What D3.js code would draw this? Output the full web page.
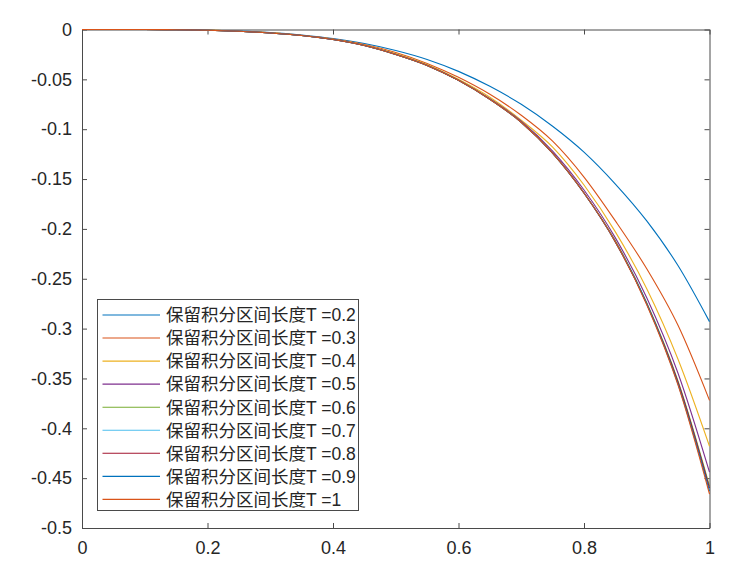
<!DOCTYPE html>
<html>
<head>
<meta charset="utf-8">
<script src="https://cdn.jsdelivr.net/npm/d3@7"></script>
<style>
  html, body { margin: 0; padding: 0; background: #fff; }
  svg { display: block; }
</style>
</head>
<body>
<div id="chart"></div>
<script>
// ---------- data ----------
const xValues = [0, 0.05, 0.1, 0.15, 0.2, 0.25, 0.3, 0.35, 0.4, 0.45, 0.5,
                 0.55, 0.6, 0.65, 0.7, 0.75, 0.8, 0.85, 0.9, 0.95, 1];

const seriesT02 = [0, 0, 0, -0.0002, -0.0005, -0.0015, -0.003, -0.0055, -0.009, -0.014, -0.021,
                   -0.030, -0.042, -0.057, -0.075, -0.097, -0.123, -0.155, -0.192, -0.237, -0.293];
const seriesT03 = [0, 0, 0, -0.0002, -0.0006, -0.0017, -0.0033, -0.0058, -0.0095, -0.015, -0.023,
                   -0.034, -0.048, -0.065, -0.086, -0.112, -0.148, -0.192, -0.240, -0.297, -0.372];
const seriesT04 = [0, 0, 0, -0.0002, -0.0006, -0.0017, -0.0034, -0.006, -0.0098, -0.0155, -0.024,
                   -0.035, -0.050, -0.068, -0.091, -0.118, -0.156, -0.203, -0.260, -0.331, -0.418];
const seriesT05 = [0, 0, 0, -0.0002, -0.0007, -0.0018, -0.0035, -0.006, -0.010, -0.016, -0.0248,
                   -0.0358, -0.0508, -0.0695, -0.092, -0.122, -0.161, -0.209, -0.269, -0.345, -0.444];
const seriesT06 = [0, 0, 0, -0.0002, -0.0007, -0.0018, -0.0035, -0.006, -0.010, -0.016, -0.025,
                   -0.036, -0.051, -0.070, -0.093, -0.124, -0.164, -0.212, -0.274, -0.353, -0.458];
const seriesT07 = [0, 0, 0, -0.0002, -0.0007, -0.0018, -0.0035, -0.006, -0.010, -0.016, -0.025,
                   -0.036, -0.051, -0.070, -0.093, -0.124, -0.164, -0.213, -0.275, -0.355, -0.461];
const seriesT08 = [0, 0, 0, -0.0002, -0.0007, -0.0018, -0.0035, -0.006, -0.010, -0.016, -0.025,
                   -0.036, -0.051, -0.070, -0.093, -0.124, -0.164, -0.213, -0.275, -0.354, -0.460];
const seriesT09 = [0, 0, 0, -0.0002, -0.0007, -0.0018, -0.0035, -0.006, -0.010, -0.016, -0.025,
                   -0.036, -0.051, -0.070, -0.093, -0.124, -0.164, -0.213, -0.275, -0.356, -0.463];
const seriesT10 = [0, 0, 0, -0.0002, -0.0007, -0.0018, -0.0035, -0.006, -0.010, -0.016, -0.025,
                   -0.036, -0.051, -0.070, -0.093, -0.124, -0.164, -0.213, -0.276, -0.357, -0.466];

const seriesLabels = [
  "保留积分区间长度T =0.2", "保留积分区间长度T =0.3", "保留积分区间长度T =0.4",
  "保留积分区间长度T =0.5", "保留积分区间长度T =0.6", "保留积分区间长度T =0.7",
  "保留积分区间长度T =0.8", "保留积分区间长度T =0.9", "保留积分区间长度T =1"
];
const seriesColors = ["#0072BD", "#D95319", "#EDB120", "#7E2F8E", "#77AC30",
                      "#4DBEEE", "#A2142F", "#0072BD", "#D95319"];

const xTicks = [0, 0.2, 0.4, 0.6, 0.8, 1];
const xTickLabels = ["0", "0.2", "0.4", "0.6", "0.8", "1"];
const yTicks = [0, -0.05, -0.1, -0.15, -0.2, -0.25, -0.3, -0.35, -0.4, -0.45, -0.5];
const yTickLabels = ["0", "-0.05", "-0.1", "-0.15", "-0.2", "-0.25", "-0.3", "-0.35", "-0.4", "-0.45", "-0.5"];

const allSeries = [seriesT02, seriesT03, seriesT04, seriesT05, seriesT06,
                   seriesT07, seriesT08, seriesT09, seriesT10];

// ---------- layout ----------
const W = 732, H = 577;
const plot = { left: 82, right: 709.5, top: 29.5, bottom: 528 };
const axisColor = "#4a4a4a";
const textColor = "#262626";
const tickFont = "'Liberation Sans', Arial, 'Noto Sans CJK SC', sans-serif";

const svg = d3.select("#chart").append("svg")
  .attr("width", W).attr("height", H);

const x = d3.scaleLinear().domain([0, 1]).range([plot.left, plot.right]);
const y = d3.scaleLinear().domain([-0.5, 0]).range([plot.bottom, plot.top]);

// ---------- axes ----------
function styleAxis(g) {
  g.selectAll(".domain").attr("stroke", axisColor).attr("stroke-width", 1);
  g.selectAll(".tick line").attr("stroke", axisColor).attr("stroke-width", 1);
  g.selectAll(".tick text").attr("fill", textColor)
    .style("font-family", tickFont).style("font-size", "18px");
}

const fmtX = v => xTickLabels[xTicks.indexOf(v)];
const fmtY = v => yTickLabels[yTicks.indexOf(v)];

svg.append("g")
  .attr("transform", `translate(0,${plot.bottom})`)
  .call(d3.axisBottom(x).tickValues(xTicks).tickFormat(fmtX)
        .tickSizeInner(-5).tickSizeOuter(0).tickPadding(13))
  .call(styleAxis);

svg.append("g")
  .attr("transform", `translate(0,${plot.top})`)
  .call(d3.axisTop(x).tickValues(xTicks).tickFormat("")
        .tickSizeInner(-5).tickSizeOuter(0))
  .call(styleAxis);

svg.append("g")
  .attr("transform", `translate(${plot.left},0)`)
  .call(d3.axisLeft(y).tickValues(yTicks).tickFormat(fmtY)
        .tickSizeInner(-5).tickSizeOuter(0).tickPadding(10))
  .call(styleAxis);

svg.append("g")
  .attr("transform", `translate(${plot.right},0)`)
  .call(d3.axisRight(y).tickValues(yTicks).tickFormat("")
        .tickSizeInner(-5).tickSizeOuter(0))
  .call(styleAxis);

// ---------- lines (drawn over the axes box) ----------
const line = d3.line()
  .x((d, i) => x(xValues[i]))
  .y(d => y(d))
  .curve(d3.curveMonotoneX);

const linesG = svg.append("g");
linesG.selectAll("path")
  .data(allSeries)
  .join("path")
  .attr("d", d => line(d))
  .attr("fill", "none")
  .attr("stroke", (d, i) => seriesColors[i])
  .attr("stroke-width", 1.1);

// ---------- legend ----------
const legend = { left: 97.5, top: 299.5, width: 261, height: 211, firstRow: 315, rowStep: 23.05 };
const lg = svg.append("g");
lg.append("rect")
  .attr("x", legend.left).attr("y", legend.top)
  .attr("width", legend.width).attr("height", legend.height)
  .attr("fill", "#fff").attr("stroke", axisColor).attr("stroke-width", 1);

const rows = lg.selectAll("g.row")
  .data(seriesLabels)
  .join("g")
  .attr("class", "row")
  .attr("transform", (d, i) => `translate(0,${legend.firstRow + i * legend.rowStep})`);

rows.append("line")
  .attr("x1", 102.5).attr("x2", 160)
  .attr("y1", 0).attr("y2", 0)
  .attr("stroke", (d, i) => seriesColors[i])
  .attr("stroke-width", 1.1);

rows.append("text")
  .attr("x", 166).attr("y", 0).attr("dy", "0.36em")
  .attr("fill", textColor)
  .style("font-family", "'Liberation Sans', Arial, 'Noto Sans CJK SC', sans-serif")
  .style("font-size", "17.5px")
  .text(d => d);
</script>
</body>
</html>
